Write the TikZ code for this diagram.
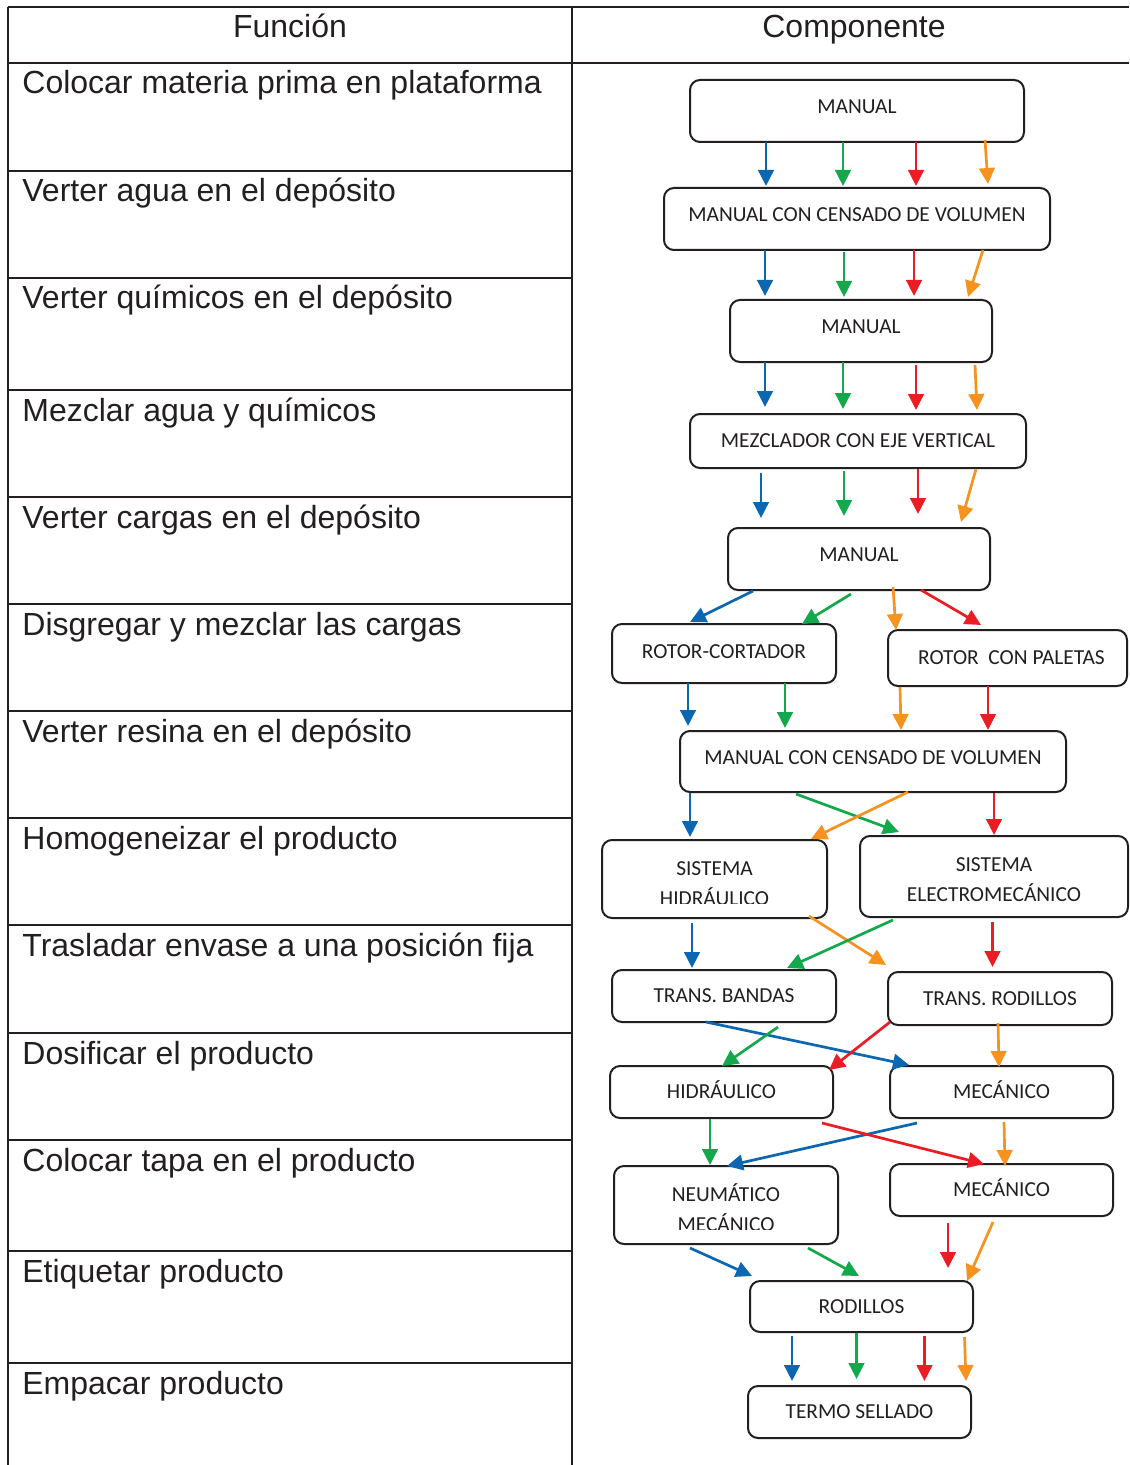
\documentclass[tikz,border=0pt]{standalone}
\usepackage{fontspec}
\setmainfont{Liberation Sans}
\newfontfamily\boxfont{Carlito}
\usetikzlibrary{arrows.meta,calc}

\definecolor{ink}{HTML}{231F20}
\definecolor{cblue}{HTML}{0B67B2}
\definecolor{cgreen}{HTML}{12A84B}
\definecolor{cred}{HTML}{EC1C24}
\definecolor{corange}{HTML}{F6921E}

\begin{document}
\begin{tikzpicture}[x=0.5pt,y=-0.5pt,
  rule/.style={line width=1pt, draw=ink},
  comp/.style={draw=ink, line width=1pt, rounded corners=5pt, inner sep=0pt,
    font=\boxfont\fontsize{10.7pt}{12pt}\selectfont, text=ink,
    text height=6.9pt, text depth=0pt},
  raised/.style={text depth=4pt},
  ctext/.style={anchor=base, inner sep=0pt, text=ink,
    font=\boxfont\fontsize{10.7pt}{12pt}\selectfont},
  flow/.style={line width=1.35pt, -{Triangle[length=8pt,width=7.8pt]}},
  fb/.style={flow, draw=cblue, fill=cblue},
  fg/.style={flow, draw=cgreen, fill=cgreen},
  fr/.style={flow, draw=cred, fill=cred},
  fo/.style={flow, draw=corange, fill=corange},
  lbl/.style={anchor=base west, inner sep=0pt, text=ink,
    font=\fontsize{16pt}{19pt}\selectfont},
  hdr/.style={anchor=base, inner sep=0pt, text=ink,
    font=\fontsize{16pt}{19pt}\selectfont}
]
\useasboundingbox (0,0) rectangle (1129,1465);
\fill[white] (0,0) rectangle (1129,1465);

% ---------- table frame ----------
\draw[rule] (8,7) -- (1129,7);
\draw[rule] (8,63) -- (1129,63);
\draw[rule] (8,7) -- (8,1465);
\draw[rule] (572,7) -- (572,1465);
\foreach \y in {171,278,390,497,604,711,818,925,1033,1140,1251,1363}
  \draw[rule] (8,\y) -- (572,\y);

\node[hdr] (hf) at (290,38) {Función};
\node[hdr] (hc) at (854,38) {Componente};

% ---------- functions ----------
\node[lbl] (f1)  at (22,94)   {Colocar materia prima en plataforma};
\node[lbl] (f2)  at (22,202)  {Verter agua en el depósito};
\node[lbl] (f3)  at (22,309)  {Verter químicos en el depósito};
\node[lbl] (f4)  at (22,421)  {Mezclar agua y químicos};
\node[lbl] (f5)  at (22,528)  {Verter cargas en el depósito};
\node[lbl] (f6)  at (22,635)  {Disgregar y mezclar las cargas};
\node[lbl] (f7)  at (22,742)  {Verter resina en el depósito};
\node[lbl] (f8)  at (22,849)  {Homogeneizar el producto};
\node[lbl] (f9)  at (22,956)  {Trasladar envase a una posición fija};
\node[lbl] (f10) at (22,1064) {Dosificar el producto};
\node[lbl] (f11) at (22,1171) {Colocar tapa en el producto};
\node[lbl] (f12) at (22,1282) {Etiquetar producto};
\node[lbl] (f13) at (22,1394) {Empacar producto};

% ---------- components ----------
\node[comp,raised,minimum width=167pt,minimum height=31pt] (m1) at (857,111) {MANUAL};
\node[comp,raised,minimum width=193pt,minimum height=31pt] (m2) at (857,219) {MANUAL CON CENSADO DE VOLUMEN};
\node[comp,raised,minimum width=131pt,minimum height=31pt] (m3) at (861,331) {MANUAL};
\node[comp,minimum width=168pt,minimum height=27pt] (m4) at (858,441) {MEZCLADOR CON EJE VERTICAL};
\node[comp,raised,minimum width=131pt,minimum height=31pt] (m5) at (859,559) {MANUAL};
\node[comp,text depth=2pt,minimum width=112pt,minimum height=29.5pt] (m6) at (724,653.5) {ROTOR-CORTADOR};
\node[comp,minimum width=119.5pt,minimum height=28pt] (m7) at (1007.5,658) {\hspace{4pt}ROTOR\ \ CON PALETAS};
\node[comp,raised,minimum width=193pt,minimum height=30.5pt] (m8) at (873,761.5) {MANUAL CON CENSADO DE VOLUMEN};
\node[comp,minimum width=112.5pt,minimum height=39pt] (m9) at (714.5,879) {};
\node[comp,minimum width=134pt,minimum height=40.5pt] (m10) at (994,876.5) {};
\node[comp,minimum width=112pt,minimum height=26pt] (m11) at (724,996) {TRANS. BANDAS};
\node[comp,minimum width=112pt,minimum height=26.5pt] (m12) at (1000,998.5) {TRANS. RODILLOS};
\node[comp,minimum width=111.5pt,minimum height=26pt] (m13) at (721.5,1092) {HIDRÁULICO};
\node[comp,minimum width=111.5pt,minimum height=26pt] (m14) at (1001.5,1092) {MECÁNICO};
\node[comp,minimum width=112pt,minimum height=39pt] (m15) at (726,1205) {};
\node[comp,minimum width=111.5pt,minimum height=26pt] (m16) at (1001.5,1190) {MECÁNICO};
\node[comp,minimum width=111.5pt,minimum height=25.5pt] (m17) at (861.5,1306.5) {RODILLOS};
\node[comp,minimum width=111.5pt,minimum height=26pt] (m18) at (859.5,1412) {TERMO SELLADO};

% two-line labels; the second line is cut off by the text frame
\node[ctext] (m9a) at (714.5,875) {SISTEMA};
\begin{scope}
  \clip (600,840) rectangle (830,903);
  \node[ctext] (m9b) at (714.5,905) {HIDRÁULICO};
\end{scope}
\node[ctext] (m10a) at (994,871) {SISTEMA};
\node[ctext] (m10b) at (994,901) {ELECTROMECÁNICO};
\node[ctext] (m15a) at (726,1201) {NEUMÁTICO};
\begin{scope}
  \clip (612,1166) rectangle (840,1229);
  \node[ctext] (m15b) at (726,1231) {MECÁNICO};
\end{scope}

% ---------- flows ----------
% m1 -> m2
\draw[fb] ($(m1)+(-91,31)$) -- ($(m2)+(-91,-33)$);
\draw[fg] ($(m1)+(-14,31)$) -- ($(m2)+(-14,-33)$);
\draw[fr] ($(m1)+(59,31)$)  -- ($(m2)+(59,-33)$);
\draw[fo] ($(m1)+(128,29)$) -- ($(m2)+(131,-35)$);
% m2 -> m3
\draw[fb] ($(m2)+(-92,31)$) -- ($(m3)+(-96,-35)$);
\draw[fg] ($(m2)+(-13,33)$) -- ($(m3)+(-17,-34)$);
\draw[fr] ($(m2)+(57,31)$)  -- ($(m3)+(53,-35)$);
\draw[fo] ($(m2)+(126,31)$) -- ($(m3)+(107,-34)$);
% m3 -> m4
\draw[fb] ($(m3)+(-96,31)$) -- ($(m4)+(-93,-34)$);
\draw[fg] ($(m3)+(-18,31)$) -- ($(m4)+(-15,-32)$);
\draw[fr] ($(m3)+(55,34)$)  -- ($(m4)+(58,-31)$);
\draw[fo] ($(m3)+(114,34)$) -- ($(m4)+(119,-31)$);
% m4 -> m5
\draw[fb] ($(m4)+(-97,32)$) -- ($(m5)+(-98,-41)$);
\draw[fg] ($(m4)+(-14,30)$) -- ($(m5)+(-15,-43)$);
\draw[fr] ($(m4)+(60,28)$)  -- ($(m5)+(59,-45)$);
\draw[fo] ($(m4)+(118,28)$) -- ($(m5)+(102,-37)$);
% m5 -> rotors
\draw[fb] ($(m5)+(-106,32)$) -- ($(m6)+(-34,-31.5)$);
\draw[fg] ($(m5)+(-8,35)$)   -- ($(m6)+(78,-29.5)$);
\draw[fo] ($(m5)+(34,28)$)   -- ($(m7)+(-111.5,-28)$);
\draw[fr] ($(m5)+(62,31)$)   -- ($(m7)+(-26.5,-33)$);
% rotors -> m8
\draw[fb] ($(m6)+(-36,29.5)$)   -- ($(m8)+(-185,-35.5)$);
\draw[fg] ($(m6)+(61,29.5)$)    -- ($(m8)+(-88,-33.5)$);
\draw[fo] ($(m7)+(-107.5,29)$)  -- ($(m8)+(28,-31.5)$);
\draw[fr] ($(m7)+(-19.5,28)$)   -- ($(m8)+(115,-31.5)$);
% m8 -> systems
\draw[fb] ($(m8)+(-183,31.5)$) -- ($(m9)+(-24.5,-42)$);
\draw[fg] ($(m8)+(-77,32.5)$)  -- ($(m10)+(-95,-44.5)$);
\draw[fo] ($(m8)+(35,30.5)$)   -- ($(m9)+(96.5,-40)$);
\draw[fr] ($(m8)+(121,31.5)$)  -- ($(m10)+(0,-41.5)$);
% systems -> transport
\draw[fb] ($(m9)+(-22.5,44)$)  -- ($(m11)+(-32,-28)$);
\draw[fo] ($(m9)+(94.5,37)$)   -- ($(m12)+(-114,-33.5)$);
\draw[fg] ($(m10)+(-101,43.5)$) -- ($(m11)+(63,-28)$);
\draw[fr] ($(m10)+(-1.5,45.5)$) -- ($(m12)+(-7.5,-31.5)$);
% transport -> dosing
\draw[fb] ($(m11)+(-18,26)$)   -- ($(m14)+(-92.5,-27)$);
\draw[fg] ($(m11)+(54,31)$)    -- ($(m13)+(0.5,-26)$);
\draw[fr] ($(m12)+(-110,23.5)$) -- ($(m13)+(107.5,-22)$);
\draw[fo] ($(m12)+(-2,24.5)$)  -- ($(m14)+(-2.5,-25)$);
% dosing -> capping
\draw[fg] ($(m13)+(-11.5,27)$) -- ($(m15)+(-16,-40)$);
\draw[fb] ($(m14)+(-84.5,31)$) -- ($(m15)+(1,-39)$);
\draw[fr] ($(m13)+(100.5,31)$) -- ($(m16)+(-17.5,-26)$);
\draw[fo] ($(m14)+(2.5,30)$)   -- ($(m16)+(3.5,-24)$);
% capping -> labelling
\draw[fb] ($(m15)+(-36,43)$)   -- ($(m17)+(-109.5,-30.5)$);
\draw[fg] ($(m15)+(82,43)$)    -- ($(m17)+(-2.5,-30.5)$);
\draw[fr] ($(m16)+(-53.5,33)$) -- ($(m17)+(86.5,-38.5)$);
\draw[fo] ($(m16)+(-8.5,32)$)  -- ($(m17)+(105.5,-25.5)$);
% labelling -> packing
\draw[fb] ($(m17)+(-69.5,29.5)$) -- ($(m18)+(-67.5,-31)$);
\draw[fg] ($(m17)+(-5,26.5)$)    -- ($(m18)+(-3,-33)$);
\draw[fr] ($(m17)+(63,29.5)$)    -- ($(m18)+(65,-31)$);
\draw[fo] ($(m17)+(103,30.5)$)   -- ($(m18)+(106.5,-31)$);
\end{tikzpicture}
\end{document}
